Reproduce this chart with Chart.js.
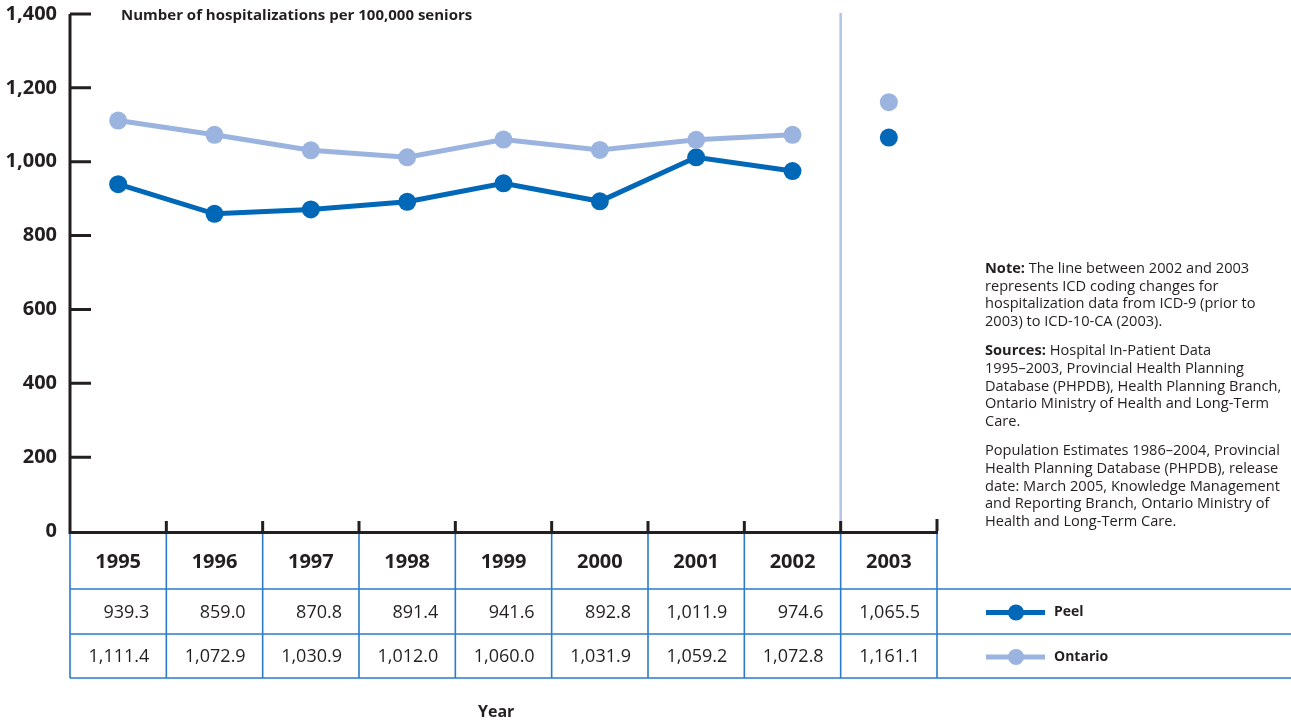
<!DOCTYPE html>
<html>
<head>
<meta charset="utf-8">
<script src="https://cdn.jsdelivr.net/npm/chart.js@4"></script>
<style>
  body { margin: 0; background: #fff; }
  #wrap { position: relative; width: 1291px; height: 724px; }
  canvas { position: absolute; left: 0; top: 0; }
  .txt { position: absolute; font-family: "Open Sans", sans-serif; color: #231f20; white-space: nowrap; }
  #title { left: 121px; top: 4px; font-size: 15px; font-weight: bold; }
  #xtitle { left: 478px; top: 700px; font-size: 16px; font-weight: bold; }
  #note { left: 985px; top: 259px; font-size: 14.6px; line-height: 17.7px; }
  #note p { margin: 0 0 11.5px 0; }
</style>
</head>
<body>
<div id="wrap">
  <canvas id="chart" width="1291" height="724"></canvas>
  <div class="txt" id="title">Number of hospitalizations per 100,000 seniors</div>
  <div class="txt" id="xtitle">Year</div>
  <div class="txt" id="note">
    <p><b>Note:</b> The line between 2002 and 2003<br>represents ICD coding changes for<br>hospitalization data from ICD-9 (prior to<br>2003) to ICD-10-CA (2003).</p>
    <p><b>Sources:</b> Hospital In-Patient Data<br>1995–2003, Provincial Health Planning<br>Database (PHPDB), Health Planning Branch,<br>Ontario Ministry of Health and Long-Term<br>Care.</p>
    <p>Population Estimates 1986–2004, Provincial<br>Health Planning Database (PHPDB), release<br>date: March 2005, Knowledge Management<br>and Reporting Branch, Ontario Ministry of<br>Health and Long-Term Care.</p>
  </div>
</div>
<script>
const years = ['1995', '1996', '1997', '1998', '1999', '2000', '2001', '2002', '2003'];
const peel = [939.3, 859.0, 870.8, 891.4, 941.6, 892.8, 1011.9, 974.6, 1065.5];
const ontario = [1111.4, 1072.9, 1030.9, 1012.0, 1060.0, 1031.9, 1059.2, 1072.8, 1161.1];
const yTicks = [0, 200, 400, 600, 800, 1000, 1200, 1400];

const PEEL_COLOR = '#0068b7';
const ONT_COLOR = '#9bb4df';
const TABLE_BLUE = '#2a7ccb';
const AXIS_COLOR = '#231f20';
const BREAK_INDEX = 8; // coding change between 2002 and 2003

function fmt(v) {
    return v.toLocaleString('en-US', { minimumFractionDigits: 1, maximumFractionDigits: 1 });
}

// hide the segment that crosses the coding change
function segColor(color) {
    return ctx => ctx.p1DataIndex === BREAK_INDEX ? 'rgba(0,0,0,0)' : color;
}

const tablePlugin = {
    id: 'tablePlugin',
    afterDraw(chart) {
        const ctx = chart.ctx;
        const area = chart.chartArea;
        const xs = chart.scales.x;
        const ys = chart.scales.y;
        const n = years.length;

        // column boundaries
        const bounds = [area.left];
        for (let i = 1; i < n; i++) {
            bounds.push((xs.getPixelForValue(i - 1) + xs.getPixelForValue(i)) / 2);
        }
        bounds.push(area.right);

        const rowTop = area.bottom;
        const row1 = 589, row2 = 634, row3 = 678;

        ctx.save();

        // coding change divider
        ctx.strokeStyle = '#b2c5e8';
        ctx.lineWidth = 2.5;
        ctx.beginPath();
        ctx.moveTo(bounds[BREAK_INDEX], area.top - 1);
        ctx.lineTo(bounds[BREAK_INDEX], area.bottom);
        ctx.stroke();

        // table grid
        ctx.strokeStyle = TABLE_BLUE;
        ctx.lineWidth = 1.6;
        ctx.beginPath();
        bounds.forEach(b => {
            ctx.moveTo(b, rowTop);
            ctx.lineTo(b, row3);
        });
        [row1, row2, row3].forEach(y => {
            ctx.moveTo(area.left, y);
            ctx.lineTo(chart.width, y);
        });
        ctx.stroke();

        // values
        ctx.fillStyle = AXIS_COLOR;
        ctx.font = '18px "Open Sans", sans-serif';
        ctx.textAlign = 'right';
        ctx.textBaseline = 'middle';
        for (let i = 0; i < n; i++) {
            ctx.fillText(fmt(peel[i]), bounds[i + 1] - 17, (row1 + row2) / 2 + 1);
            ctx.fillText(fmt(ontario[i]), bounds[i + 1] - 17, (row2 + row3) / 2 + 1);
        }

        // y axis with inward ticks
        ctx.strokeStyle = AXIS_COLOR;
        ctx.lineWidth = 3;
        ctx.beginPath();
        ctx.moveTo(area.left, area.top);
        ctx.lineTo(area.left, area.bottom + 1.5);
        ctx.lineTo(area.right + 1, area.bottom + 1.5);
        yTicks.forEach(t => {
            if (t === 0) return;
            const y = ys.getPixelForValue(t);
            ctx.moveTo(area.left, y);
            ctx.lineTo(area.left + 21, y);
        });
        for (let i = 1; i < n; i++) {
            ctx.moveTo(bounds[i], area.bottom);
            ctx.lineTo(bounds[i], area.bottom - 10);
        }
        ctx.moveTo(area.right, area.bottom);
        ctx.lineTo(area.right, area.bottom - 12);
        ctx.stroke();

        // legend
        const legend = [
            { label: 'Peel', color: PEEL_COLOR, y: (row1 + row2) / 2 + 1 },
            { label: 'Ontario', color: ONT_COLOR, y: (row2 + row3) / 2 + 1 }
        ];
        legend.forEach(l => {
            ctx.strokeStyle = l.color;
            ctx.lineWidth = 5;
            ctx.beginPath();
            ctx.moveTo(986, l.y);
            ctx.lineTo(1045, l.y);
            ctx.stroke();
            ctx.fillStyle = l.color;
            ctx.beginPath();
            ctx.arc(1016, l.y, 8, 0, Math.PI * 2);
            ctx.fill();
            ctx.fillStyle = AXIS_COLOR;
            ctx.font = 'bold 14px "Open Sans", sans-serif';
            ctx.textAlign = 'left';
            ctx.fillText(l.label, 1054, l.y);
        });

        ctx.restore();
    }
};

const chart = new Chart(document.getElementById('chart'), {
    type: 'line',
    data: {
        labels: years,
        datasets: [
            {
                label: 'Ontario',
                data: ontario,
                borderColor: ONT_COLOR,
                backgroundColor: ONT_COLOR,
                borderWidth: 5,
                pointRadius: 9,
                pointBorderWidth: 0,
                tension: 0,
                segment: { borderColor: segColor(ONT_COLOR) }
            },
            {
                label: 'Peel',
                data: peel,
                borderColor: PEEL_COLOR,
                backgroundColor: PEEL_COLOR,
                borderWidth: 5,
                pointRadius: 9,
                pointBorderWidth: 0,
                tension: 0,
                segment: { borderColor: segColor(PEEL_COLOR) }
            }
        ]
    },
    options: {
        responsive: false,
        animation: false,
        events: [],
        layout: { padding: { top: 14, right: 354, left: 0, bottom: 0 } },
        plugins: {
            legend: { display: false },
            tooltip: { enabled: false }
        },
        scales: {
            x: {
                offset: true,
                grid: { display: false, drawTicks: false },
                border: { display: false },
                ticks: {
                    color: AXIS_COLOR,
                    font: { family: '"Open Sans", sans-serif', size: 20, weight: 'bold' },
                    padding: 19,
                    maxRotation: 0
                },
                afterFit: scale => {
                    scale.height = 193;
                    scale.paddingLeft = 0;
                    scale.paddingRight = 0;
                }
            },
            y: {
                min: 0,
                max: 1400,
                grid: { display: false, drawTicks: false },
                border: { display: false },
                afterBuildTicks: scale => { scale.ticks = yTicks.map(v => ({ value: v })); },
                ticks: {
                    color: AXIS_COLOR,
                    font: { family: '"Open Sans", sans-serif', size: 20, weight: 'bold' },
                    padding: 13,
                    callback: v => v.toLocaleString('en-US')
                },
                afterFit: scale => {
                    scale.width = 70;
                    scale.paddingTop = 0;
                    scale.paddingBottom = 0;
                }
            }
        }
    },
    plugins: [tablePlugin]
});
</script>
</body>
</html>
